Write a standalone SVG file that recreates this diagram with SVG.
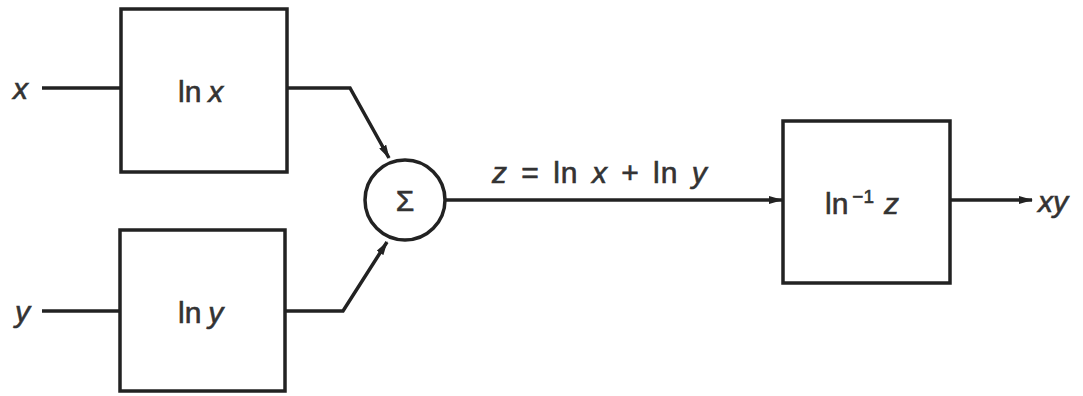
<svg xmlns="http://www.w3.org/2000/svg" width="1083" height="396" viewBox="0 0 1083 396">
<style>
.box{fill:none;stroke:#222;stroke-width:3.5}
.ln{fill:none;stroke:#222;stroke-width:3.5}
.t{font-family:"Liberation Sans",Arial,sans-serif;font-size:30px;fill:#333;stroke:#333;stroke-width:0.6}
.v{font-style:italic}
</style>
<defs>
<marker id="ah" markerWidth="14" markerHeight="8" refX="13" refY="4" orient="auto" markerUnits="userSpaceOnUse" viewBox="0 0 14 8">
<path d="M0,0 L14,4 L0,8 Z" fill="#222"/>
</marker>
</defs>
<rect width="1083" height="396" fill="#fff"/>
<g id="connectors">
<line class="ln" x1="42" y1="88" x2="121" y2="88"/>
<line class="ln" x1="42" y1="311" x2="120" y2="311"/>
<polyline class="ln" points="287,88 350,88 389,158" marker-end="url(#ah)"/>
<polyline class="ln" points="285,311 343,311 387,242" marker-end="url(#ah)"/>
<line class="ln" x1="446" y1="200" x2="782" y2="200" marker-end="url(#ah)"/>
<line class="ln" x1="951" y1="200" x2="1032" y2="200" marker-end="url(#ah)"/>
</g>
<g id="in-x"><text class="t v" x="13" y="99">x</text></g>
<g id="in-y"><text class="t v" x="15" y="322">y</text></g>
<g id="lnx"><rect class="box" x="121" y="9" width="166" height="163"/><text class="t" x="178" y="102">ln<tspan class="v" dx="7">x</tspan></text></g>
<g id="lny"><rect class="box" x="120" y="230" width="165" height="161"/><text class="t" x="178" y="323">ln<tspan class="v" dx="7">y</tspan></text></g>
<g id="sum"><circle class="box" cx="405" cy="200" r="40"/><text class="t" x="405" y="211" text-anchor="middle" font-family="Liberation Serif,serif" font-size="32">Σ</text></g>
<g id="zlabel"><text class="t" x="492" y="183" word-spacing="4" letter-spacing="1"><tspan class="v">z</tspan> = ln <tspan class="v">x</tspan> + ln <tspan class="v">y</tspan></text></g>
<g id="inv"><rect class="box" x="783" y="121" width="167" height="162"/><text class="t" x="825" y="214">ln<tspan font-size="19" dx="4" dy="-11">−1</tspan><tspan class="v" dx="10" dy="11">z</tspan></text></g>
<g id="out"><text class="t v" x="1038" y="212" font-size="32">xy</text></g>
</svg>
